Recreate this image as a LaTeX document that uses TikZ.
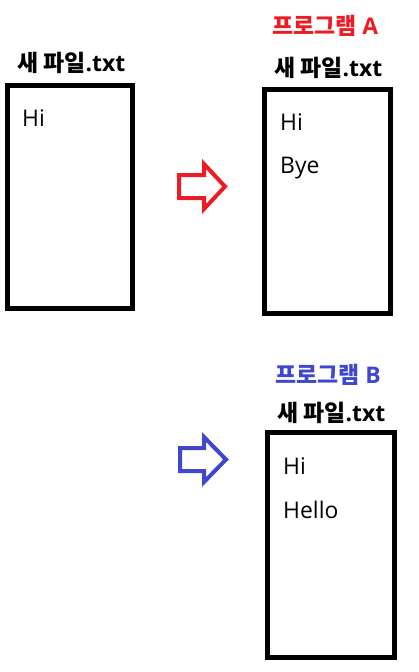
\documentclass[tikz,border=0pt]{standalone}
\usepackage{fontspec}
\setmainfont{Open Sans}
\newfontfamily\kr{Noto Sans CJK KR}
\definecolor{pred}{RGB}{237,28,36}
\definecolor{pblue}{RGB}{63,72,204}
\begin{document}
\begin{tikzpicture}[x=1bp,y=-1bp,
  filebox/.style={draw=black,line width=5bp},
  txt/.style={anchor=base west,inner sep=0pt,font=\fontsize{23}{27}\selectfont},
  ttl/.style={anchor=base west,inner sep=0pt,font=\fontsize{23}{27}\selectfont\bfseries},
  blockarrow/.style={line width=4bp,miter limit=10}]
\useasboundingbox (0,0) rectangle (418,672);
% file 1
\node[ttl] (t1) at (17,72) {{\kr 새 파일}.txt};
\draw[filebox] (7.5,85.5) rectangle (132.5,308.5);
\node[txt] (h1) at (22,127) {Hi};
% arrow A
\draw[blockarrow,draw=pred] (179,175) -- (204,175) -- (204,164) -- (225,186.5) -- (204,209) -- (204,198) -- (179,198) -- cycle;
% file A
\node[ttl,text=pred] (pa) at (272,35) {{\kr 프로그램} A};
\node[ttl] (t2) at (274,77) {{\kr 새 파일}.txt};
\draw[filebox] (264.5,89.5) rectangle (390.5,313.5);
\node[txt] (h2) at (280,131) {Hi};
\node[txt] (b2) at (280,173) {Bye};
% arrow B
\draw[blockarrow,draw=pblue] (180,448) -- (204,448) -- (204,437) -- (226,459.5) -- (204,482) -- (204,471) -- (180,471) -- cycle;
% file B
\node[ttl,text=pblue] (pb) at (275,383) {{\kr 프로그램} B};
\node[ttl] (t3) at (277,421) {{\kr 새 파일}.txt};
\draw[filebox] (267.5,432.5) rectangle (394.5,657.5);
\node[txt] (h3) at (283,474) {Hi};
\node[txt] (l3) at (283,518) {Hello};
\end{tikzpicture}
\end{document}
